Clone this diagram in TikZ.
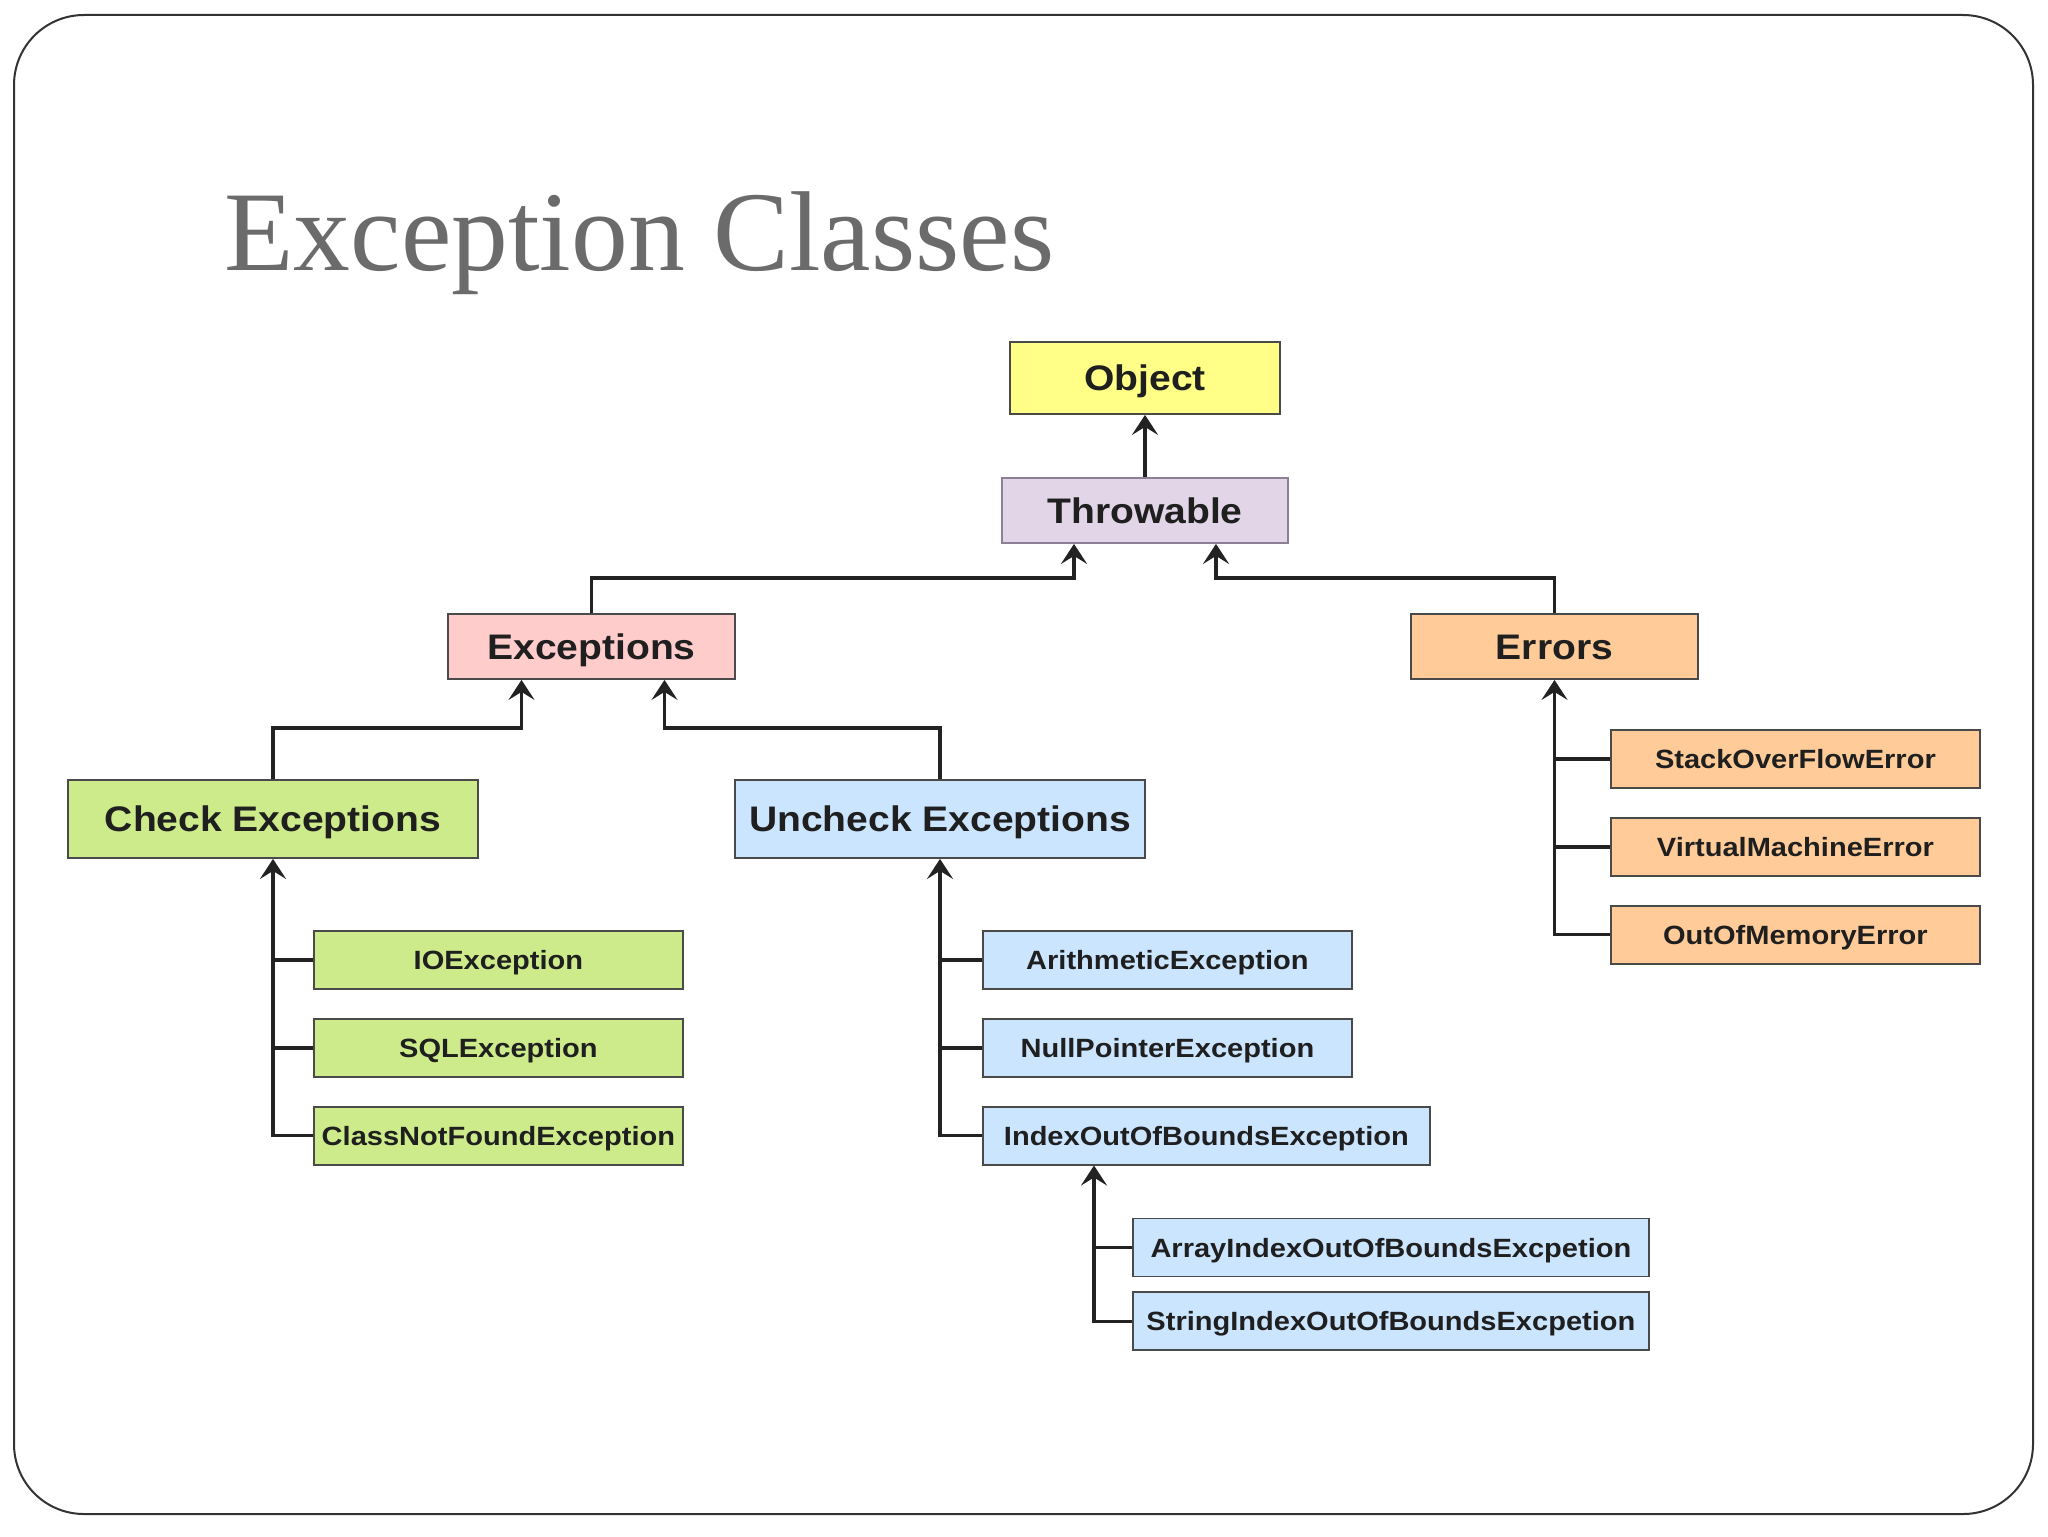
\documentclass[tikz,border=0pt]{standalone}
\usepackage{fontspec}
\usetikzlibrary{arrows.meta, positioning, calc}
\newfontfamily\diagfont{Liberation Sans}[FakeStretch=1.1]
\newfontfamily\titlefont{Liberation Serif}

\definecolor{objfill}{HTML}{FFFF88}
\definecolor{thrfill}{HTML}{E1D5E7}
\definecolor{excfill}{HTML}{FFCCCC}
\definecolor{errfill}{HTML}{FFCC99}
\definecolor{chkfill}{HTML}{CDEB8B}
\definecolor{uncfill}{HTML}{CCE5FF}
\definecolor{boxline}{HTML}{4A4A4A}
\definecolor{thrline}{HTML}{8C7F96}
\definecolor{wireline}{HTML}{222222}
\definecolor{titlegray}{HTML}{6B6B6B}

\begin{document}
\begin{tikzpicture}[
    x=0.5pt, y=-0.5pt,
    every node/.style = {align=center},
    block/.style    = {draw=boxline, line width=0.9pt, inner sep=2pt, text=black!88,
                       text height=12.7pt, text depth=0pt,
                       font=\diagfont\bfseries\fontsize{17.75}{20}\selectfont},
    objblock/.style = {block, fill=objfill, minimum width=135pt, minimum height=36pt},
    thrblock/.style = {block, fill=thrfill, draw=thrline, minimum width=143pt, minimum height=32.5pt},
    excblock/.style = {block, fill=excfill, minimum width=143.5pt, minimum height=32.5pt},
    errblock/.style = {block, fill=errfill, minimum width=143.5pt, minimum height=32.5pt},
    kindblock/.style = {block, minimum width=205pt, minimum height=39pt},
    leaf/.style     = {block, minimum width=184.5pt, minimum height=29pt, text height=9.5pt,
                       font=\diagfont\bfseries\fontsize{13.2}{15}\selectfont},
    arr/.style      = {-{Stealth[length=10pt,width=13pt,inset=4pt]}, line width=1.7pt, draw=wireline},
    wire/.style     = {line width=1.7pt, draw=wireline},
]

%% Page and frame
\fill[white] (0,0) rectangle (2048,1536);
\useasboundingbox (0,0) rectangle (2048,1536);
\draw[line width=1pt, draw=black!80, rounded corners=35pt] (14,15) rectangle (2033,1514);

%% Title
\node[font=\titlefont\fontsize{56.8}{60}\selectfont, text=titlegray, anchor=base west, inner sep=0]
    (title) at (224,270) {Exception Classes};

%% Top of the hierarchy
\node[objblock] (obj) at (1145,378)   {Object};
\node[thrblock] (thr) at (1145,510.5) {Throwable};
\node[excblock] (exc) at (591.5,646.5)  {Exceptions};
\node[errblock] (err) at (1554.5,646.5) {Errors};
\node[kindblock, fill=chkfill] (chk) at (273,819) {Check Exceptions};
\node[kindblock, fill=uncfill] (unc) at (940,819) {Uncheck Exceptions};

%% Checked leaves
\node[leaf, fill=chkfill, anchor=west] (io) at (313,960) {IOException};
\node[leaf, fill=chkfill, below=14pt of io]  (sql) {SQLException};
\node[leaf, fill=chkfill, below=14pt of sql] (cnf) {ClassNotFoundException};

%% Unchecked leaves
\node[leaf, fill=uncfill, anchor=west] (ari) at (982,960) {ArithmeticException};
\node[leaf, fill=uncfill, below=14pt of ari] (npe) {NullPointerException};
\node[leaf, fill=uncfill, minimum width=223.5pt,
      below=14pt of npe.south west, anchor=north west] (ioob) {IndexOutOfBoundsException};
\node[leaf, fill=uncfill, minimum width=258pt, anchor=west] (aioob) at (1132,1247.5)
    {ArrayIndexOutOfBoundsExcpetion};
\node[leaf, fill=uncfill, minimum width=258pt, below=7pt of aioob] (sioob)
    {StringIndexOutOfBoundsExcpetion};

%% Error leaves
\node[leaf, fill=errfill, anchor=west] (sof) at (1610,759) {StackOverFlowError};
\node[leaf, fill=errfill, below=14pt of sof] (vme) {VirtualMachineError};
\node[leaf, fill=errfill, below=14pt of vme] (oom) {OutOfMemoryError};

%% Upper arrows
\draw[arr] (thr) -- (obj);
\draw[arr] (exc.north) -- ++(0,-35) -| ($(thr.south)+(-71,0)$);
\draw[arr] (err.north) -- ++(0,-35) -| ($(thr.south)+(71,0)$);
\draw[arr] (chk.north) -- ++(0,-51) -| ($(exc.south)+(-70,0)$);
\draw[arr] (unc.north) -- ++(0,-51) -| ($(exc.south)+(73,0)$);

%% Trunks with side stubs
\draw[arr]  (cnf.west) -| (chk.south);
\draw[wire] (io.west)  -- (io.west -| chk.south);
\draw[wire] (sql.west) -- (sql.west -| chk.south);

\draw[arr]  (ioob.west) -| (unc.south);
\draw[wire] (ari.west)  -- (ari.west -| unc.south);
\draw[wire] (npe.west)  -- (npe.west -| unc.south);

\coordinate (ioobfoot) at ($(ioob.south west)+(112,0)$);
\draw[arr]  (sioob.west) -| (ioobfoot);
\draw[wire] (aioob.west) -- (aioob.west -| ioobfoot);

\draw[arr]  (oom.west) -| (err.south);
\draw[wire] (sof.west) -- (sof.west -| err.south);
\draw[wire] (vme.west) -- (vme.west -| err.south);

\end{tikzpicture}
\end{document}
